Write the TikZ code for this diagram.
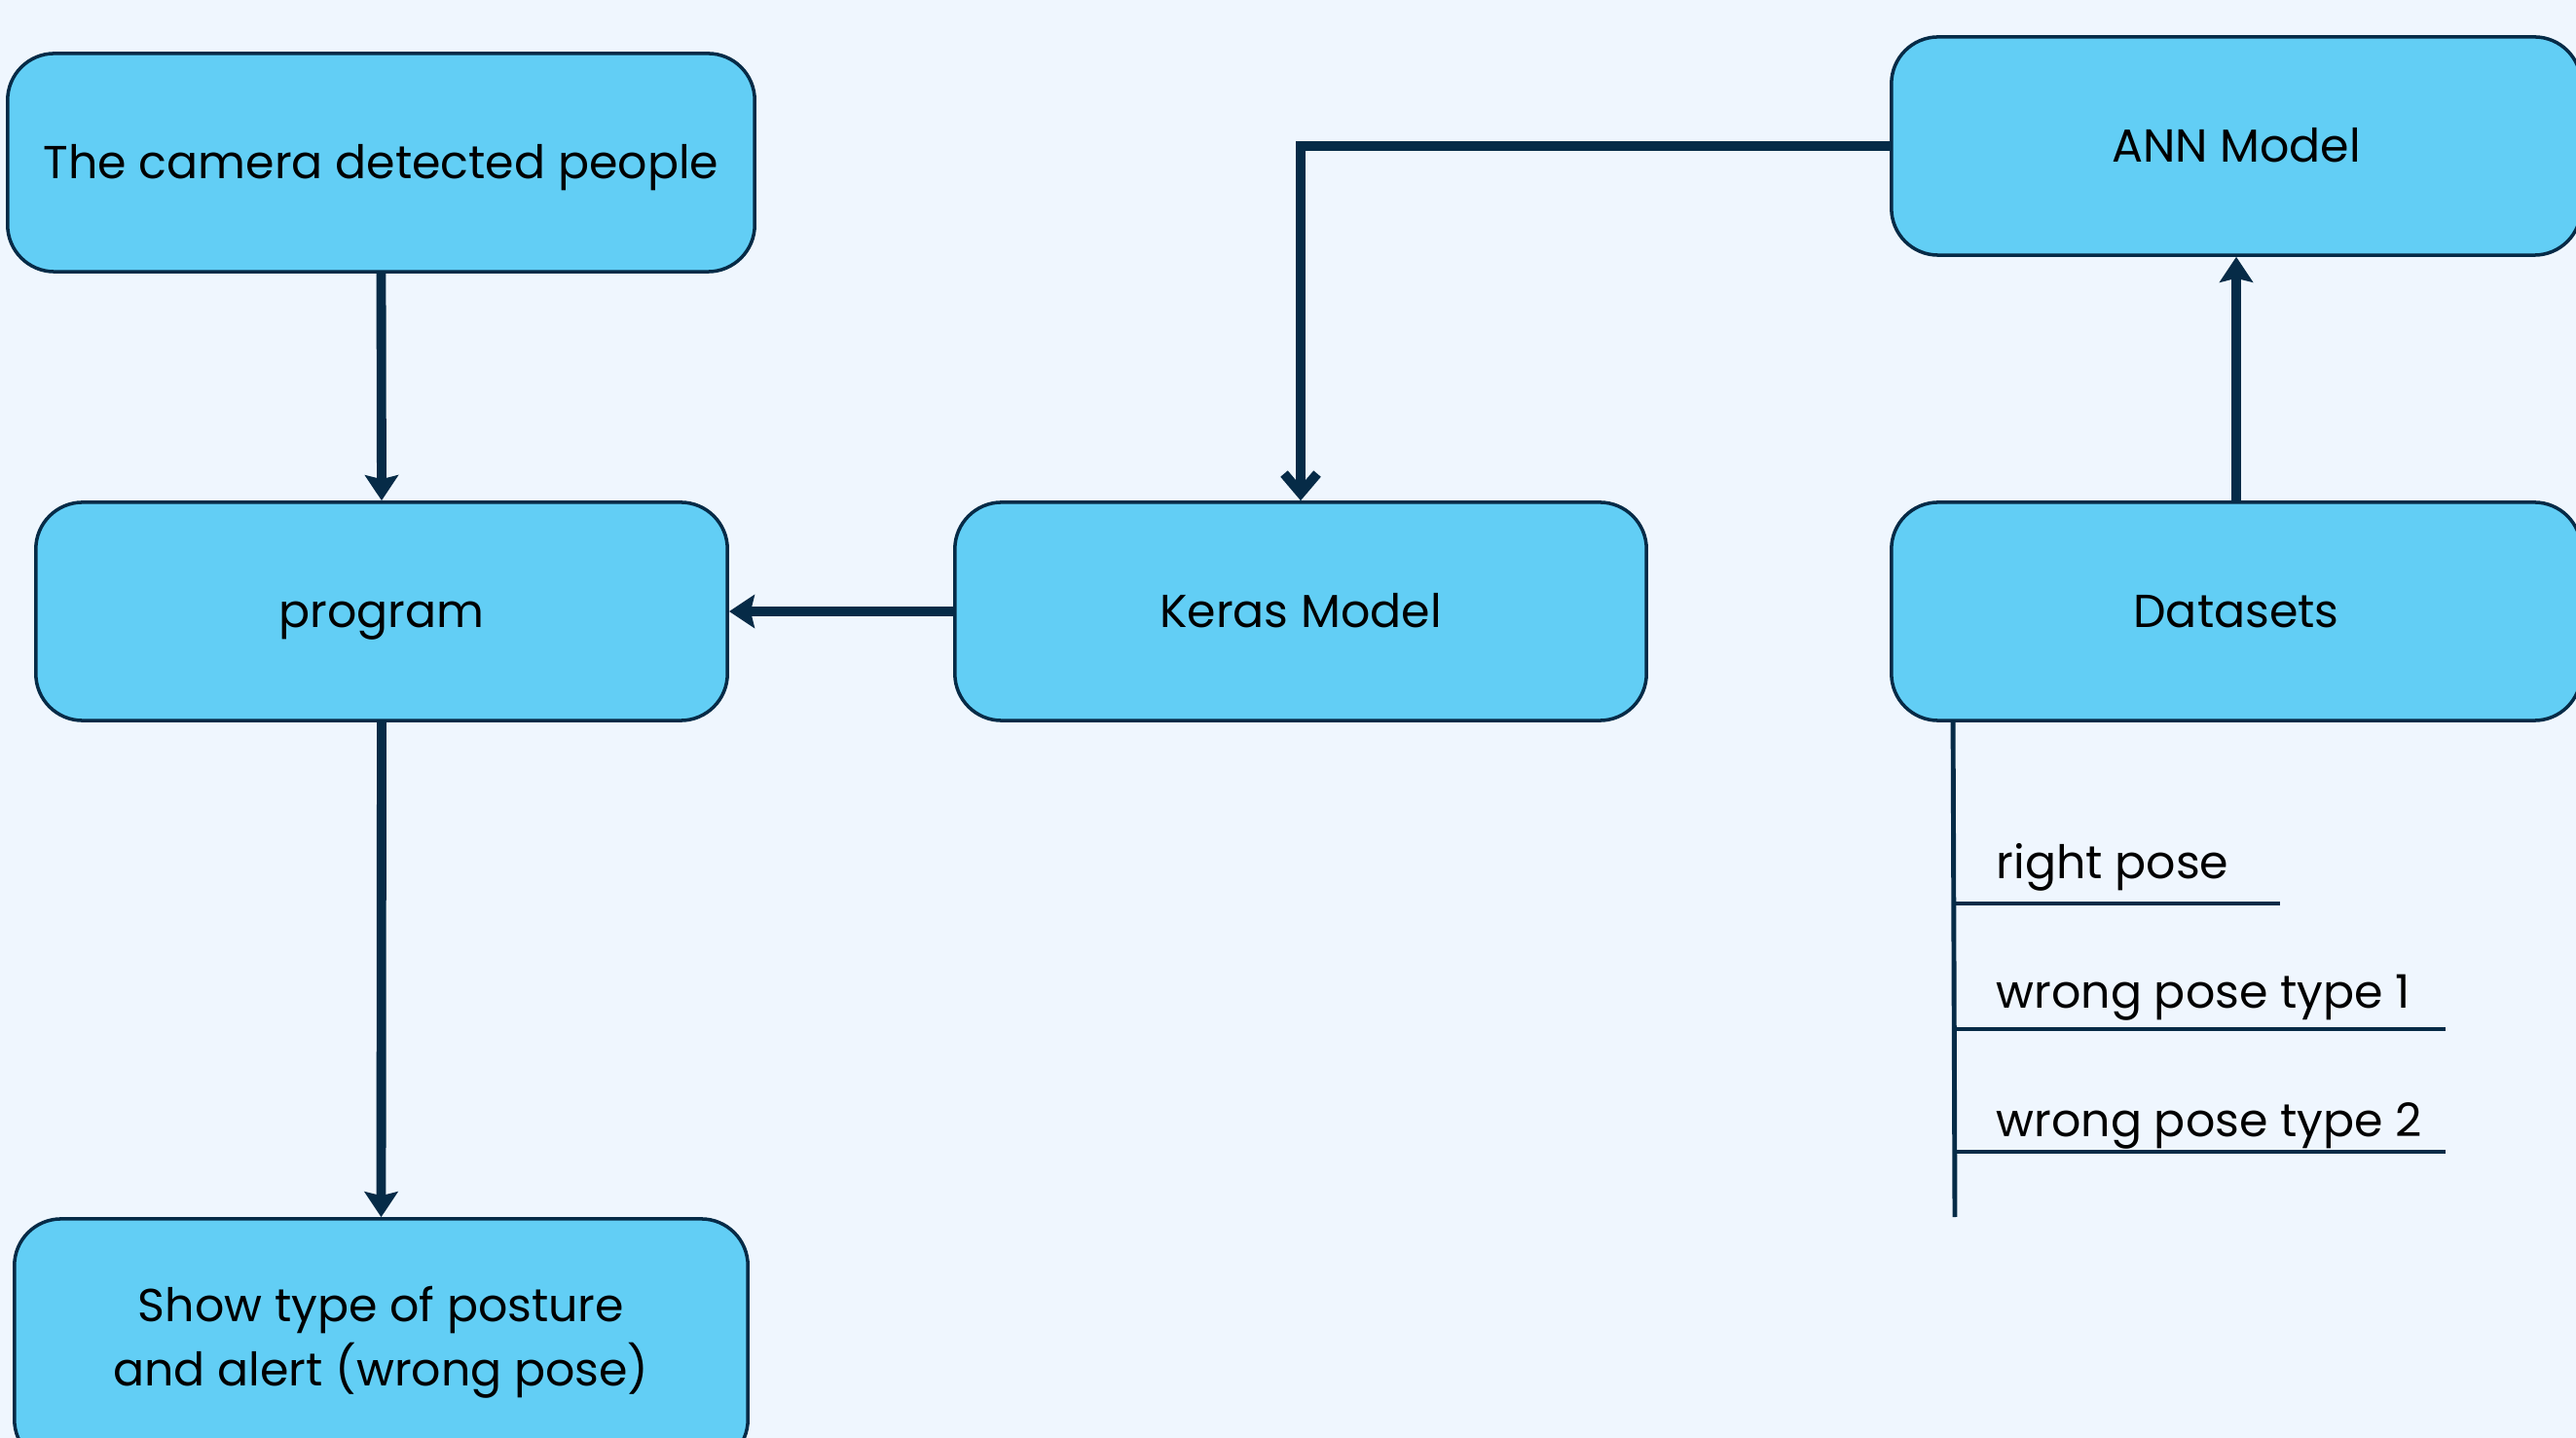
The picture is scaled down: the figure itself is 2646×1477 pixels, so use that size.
\documentclass[tikz,border=0pt]{standalone}
\usepackage{fontspec}
\setmainfont{Poppins}
\usetikzlibrary{arrows.meta}
\definecolor{bgc}{HTML}{EFF6FE}
\definecolor{boxc}{HTML}{62CEF5}
\definecolor{navy}{HTML}{062B47}
\begin{document}
\begin{tikzpicture}[x=0.01cm,y=-0.01cm,
  box/.style={draw=navy, line width=1pt, fill=boxc, rounded corners=0.48cm,
    minimum height=2.24cm, inner sep=0pt, align=center, text=black,
    font=\fontsize{13.5}{18.8}\selectfont},
  one/.style={text height=9.4pt, text depth=0pt},
  conn/.style={draw=navy, line width=2.8pt},
  tree/.style={draw=navy, line width=1.4pt},
  lab/.style={inner sep=0pt, text=black, font=\fontsize{13.5}{16}\selectfont},
  tipf/.style={-{Stealth[length=0.26cm, width=0.34cm, inset=0.04cm]}},
  tipo/.style={-{Straight Barb[length=0.2cm, width=0.34cm]}}]
\fill[bgc] (0,0) rectangle (2646,1477);
\useasboundingbox (0,0) rectangle (2646,1477);
\clip (0,0) rectangle (2646,1477);

\node[box, one, minimum width=7.67cm] (cam) at (391.5,167) {The camera detected people};
\node[box, one, minimum width=7.10cm] (prog) at (392,628) {program};
\node[box, one, minimum width=7.10cm] (keras) at (1336,628) {Keras Model};
\node[box, one, minimum width=7.08cm] (ann) at (2297,150) {ANN Model};
\node[box, one, minimum width=7.08cm] (ds) at (2297,628) {Datasets};
\node[box, minimum width=7.53cm, minimum height=2.54cm] (show) at (391.5,1379)
  {Show type of posture\\and alert (wrong pose)};

\draw[conn, tipf] (cam.south) -- (prog.north);
\draw[conn, tipf] (keras.west) -- (prog.east);
\draw[conn, tipf] (prog.south) -- (show.north);
\draw[conn, tipo] (ann.west) -| (keras.north);
\draw[conn, tipf] (ds.north) -- (ann.south);

\coordinate (t0) at ([xshift=0.65cm]ds.south west);
\coordinate (tend) at (2008,1250);
\coordinate (h1) at (2008,928);
\coordinate (h1e) at (2342,928);
\coordinate (h2) at (2008,1057);
\coordinate (h2e) at (2512,1057);
\coordinate (h3) at (2008,1183);
\coordinate (h3e) at (2512,1183);
\draw[tree] (t0) -- (tend);
\draw[tree] (h1) -- (h1e);
\draw[tree] (h2) -- (h2e);
\draw[tree] (h3) -- (h3e);

\node[lab, anchor=base west] (l1) at (2050,903) {right pose};
\node[lab, anchor=base west] (l2) at (2050,1035) {wrong pose type 1};
\node[lab, anchor=base west] (l3) at (2050,1167) {wrong pose type 2};
\end{tikzpicture}
\end{document}
